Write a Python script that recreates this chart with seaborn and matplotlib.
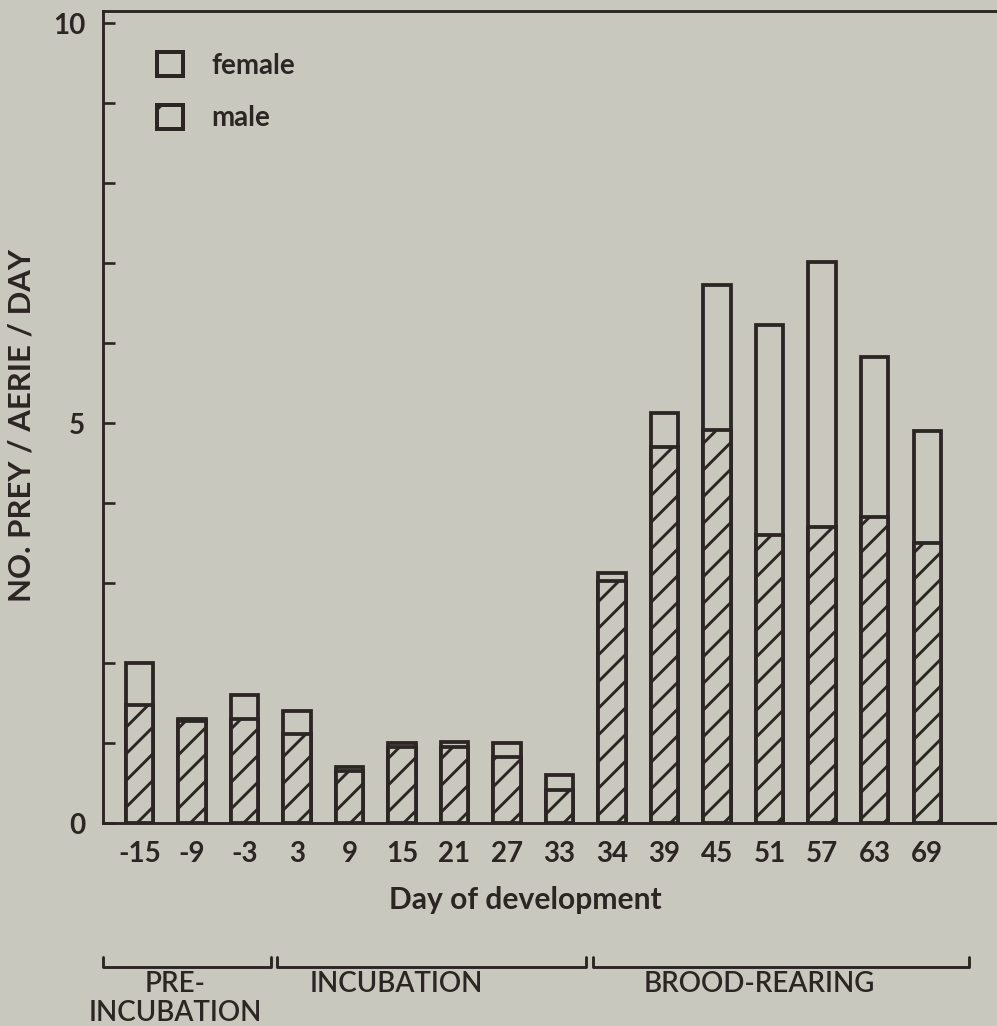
import matplotlib
matplotlib.use("Agg")
import matplotlib.pyplot as plt
import matplotlib.transforms as mtransforms
from matplotlib.patches import Patch
from matplotlib.lines import Line2D
import seaborn as sns
import pandas as pd

# ---- data ----
days = ["-15", "-9", "-3", "3", "9", "15", "21", "27", "33",
        "34", "39", "45", "51", "57", "63", "69"]
male = [1.47, 1.28, 1.30, 1.11, 0.65, 0.95, 0.95, 0.82, 0.41,
        3.03, 4.70, 4.91, 3.60, 3.70, 3.82, 3.50]
total = [2.00, 1.30, 1.60, 1.40, 0.70, 1.00, 1.01, 1.00, 0.60,
         3.12, 5.12, 6.72, 6.22, 7.01, 5.82, 4.90]
y_ticks = list(range(11))
y_ticklabels = ["0", "", "", "", "", "5", "", "", "", "", "10"]
phases = ["PRE-\nINCUBATION", "INCUBATION", "BROOD-REARING"]
phase_spans = [(-0.695, 2.5), (2.62, 8.5), (8.64, 15.8)]
phase_label_x = [0.68, 4.9, 11.8]
legend_labels = ["female", "male"]

# ---- style ----
W, H, DPI = 997, 1026, 160
paper = "#c9c8bf"
ink = "#2b2523"
sns.set_theme(style="white")
plt.rcParams["font.family"] = ["Lato", "DejaVu Sans"]
plt.rcParams["hatch.color"] = ink
plt.rcParams["hatch.linewidth"] = 1.3

df = pd.DataFrame({"day": days, "male": male, "total": total})

fig = plt.figure(figsize=(W / DPI, H / DPI), dpi=DPI, facecolor=paper)
ax = fig.add_axes([103 / W, 1 - 823 / H, 1 - 103 / W, (823 - 11) / H])
ax.set_facecolor(paper)

sns.barplot(data=df, x="day", y="total", order=days, color=paper,
            edgecolor=ink, linewidth=1.7, width=0.52, saturation=1,
            errorbar=None, ax=ax)
sns.barplot(data=df, x="day", y="male", order=days, color=paper,
            edgecolor=ink, linewidth=1.7, width=0.52, saturation=1,
            hatch="//", errorbar=None, ax=ax)

ax.set_xlim(-0.695, 16.33)
ax.set_ylim(0, 10.15)
ax.set_yticks(y_ticks)
ax.set_yticklabels(y_ticklabels)
ax.tick_params(axis="y", direction="in", length=5.5, width=1.2, color=ink,
               labelsize=12.5, labelcolor=ink, pad=8, left=True)
ax.tick_params(axis="x", length=0, labelsize=12.5, labelcolor=ink, pad=8)
for lab in ax.get_xticklabels() + ax.get_yticklabels():
    lab.set_fontweight("bold")
ax.set_xlabel("")
ax.set_ylabel("")

for s in ["left", "bottom", "top"]:
    ax.spines[s].set_visible(True)
    ax.spines[s].set_color(ink)
    ax.spines[s].set_linewidth(1.3)
ax.spines["right"].set_visible(False)

# axis titles
fig.text(22 / W, 1 - 425 / H, "NO. PREY / AERIE / DAY", rotation=90,
         ha="center", va="center", fontsize=14, fontweight="bold", color=ink)
fig.text(525 / W, 1 - 900 / H, "Day of development", ha="center",
         va="center", fontsize=13.5, fontweight="bold", color=ink)

# phase brackets
trans = mtransforms.blended_transform_factory(ax.transData, fig.transFigure)
yb = 1 - 967 / H
yt = 1 - 957 / H
for (x0, x1), name, xc in zip(phase_spans, phases, phase_label_x):
    ln = Line2D([x0, x0, x1, x1], [yt, yb, yb, yt], transform=trans,
                color=ink, lw=1.3, clip_on=False)
    fig.add_artist(ln)
    for i, part in enumerate(name.split("\n")):
        fig.text(xc, 1 - (984 + 29 * i) / H, part, transform=trans,
                 ha="center", va="center", fontsize=12.5,
                 fontweight="semibold", color=ink)

# legend
handles = [Patch(facecolor=paper, edgecolor=ink, linewidth=1.8),
           Patch(facecolor=paper, edgecolor=ink, linewidth=1.8, hatch="/")]
leg = ax.legend(handles, legend_labels, loc="upper left",
                bbox_to_anchor=(157 / W, 1 - 52 / H),
                bbox_transform=fig.transFigure, frameon=False,
                borderpad=0, borderaxespad=0, handlelength=0.95,
                handleheight=0.95, handletextpad=1.0, labelspacing=0.95,
                prop={"size": 12.5, "weight": "bold"})
for t in leg.get_texts():
    t.set_color(ink)

fig.savefig("out.png", dpi=DPI, facecolor=paper)
